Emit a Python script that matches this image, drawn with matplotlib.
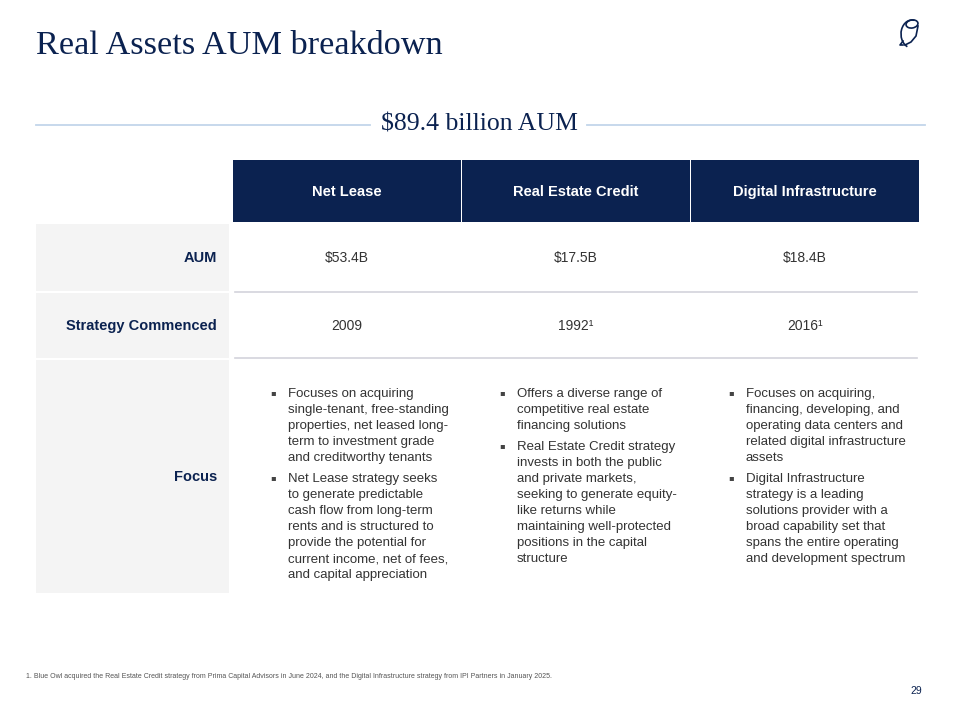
import matplotlib
matplotlib.use("Agg")
import matplotlib.pyplot as plt
from matplotlib.patches import Rectangle, Ellipse, Arc

NAVY = "#0b2250"
GREY_BG = "#f4f4f4"
TEXT = "#333333"
SANS = "Liberation Sans"
SERIF = "Liberation Serif"

title = "Real Assets AUM breakdown"
subtitle = "$89.4 billion AUM"
strategies = ["Net Lease", "Real Estate Credit", "Digital Infrastructure"]
row_labels = ["AUM", "Strategy Commenced", "Focus"]
aum = ["$53.4B", "$17.5B", "$18.4B"]
commenced = ["2009", "1992\u00b9", "2016\u00b9"]
focus = [
    [["Focuses on acquiring", "single-tenant, free-standing",
      "properties, net leased long-", "term to investment grade",
      "and creditworthy tenants"],
     ["Net Lease strategy seeks", "to generate predictable",
      "cash flow from long-term", "rents and is structured to",
      "provide the potential for", "current income, net of fees,",
      "and capital appreciation"]],
    [["Offers a diverse range of", "competitive real estate",
      "financing solutions"],
     ["Real Estate Credit strategy", "invests in both the public",
      "and private markets,", "seeking to generate equity-",
      "like returns while", "maintaining well-protected",
      "positions in the capital", "structure"]],
    [["Focuses on acquiring,", "financing, developing, and",
      "operating data centers and", "related digital infrastructure",
      "assets"],
     ["Digital Infrastructure", "strategy is a leading",
      "solutions provider with a", "broad capability set that",
      "spans the entire operating", "and development spectrum"]],
]
footnote = ("1. Blue Owl acquired the Real Estate Credit strategy from Prima Capital "
            "Advisors in June 2024, and the Digital Infrastructure strategy from "
            "IPI Partners in January 2025.")
page = "29"

fig = plt.figure(figsize=(9.56, 7.13), dpi=100)
ax = fig.add_axes([0, 0, 1, 1])
ax.set_xlim(0, 956)
ax.set_ylim(713, 0)
ax.axis("off")

# title + owl logo (rough outline)
ax.text(36, 46, title, fontsize=24.7, family=SERIF, color=NAVY, va="center")
ax.add_patch(Ellipse((912, 24), 12, 8, angle=-10, fill=False, ec=NAVY, lw=1.2))
ax.add_patch(Arc((912, 34), 22, 28, theta1=110, theta2=280, ec=NAVY, lw=1.2))
ax.plot([918, 916, 911, 905], [26, 36, 42, 45], color=NAVY, lw=1.2)
ax.plot([903, 900, 903], [45, 45, 41], color=NAVY, lw=1.2)

# subtitle with rule
ax.plot([36, 370], [125, 125], color="#c3d6ea", lw=1.3)
ax.plot([587, 925], [125, 125], color="#c3d6ea", lw=1.3)
ax.text(479, 124, subtitle, fontsize=18.5, family=SERIF, color=NAVY,
        ha="center", va="center")

# header cells
col_x = [233, 462, 691]
col_w = 228
for x, name in zip(col_x, strategies):
    ax.add_patch(Rectangle((x, 160), col_w, 62, color=NAVY, lw=0))
    ax.text(x + col_w / 2, 192, name, fontsize=10.5, family=SANS,
            weight="bold", color="white", ha="center", va="center")

# row label cells
row_y = [(224, 291), (293, 358), (360, 593)]
label_y = [258, 326, 477]
for (y0, y1), ly, lab in zip(row_y, label_y, row_labels):
    ax.add_patch(Rectangle((36, y0), 193, y1 - y0, color=GREY_BG, lw=0))
    ax.text(217, ly, lab, fontsize=10.5, family=SANS, weight="bold",
            color=NAVY, ha="right", va="center")

# separators
for y in [292, 358]:
    ax.plot([235, 917], [y, y], color="#d3d3db", lw=1.2)

# values
for x, a, c in zip(col_x, aum, commenced):
    ax.text(x + col_w / 2, 258, a, fontsize=10, family=SANS, color=TEXT,
            ha="center", va="center")
    ax.text(x + col_w / 2, 326, c, fontsize=10, family=SANS, color=TEXT,
            ha="center", va="center")

# focus bullets
line_h = 16
para_gap = 5
for x, bullets in zip(col_x, focus):
    y = 394
    for lines in bullets:
        ax.text(x + 40, y - 1, "\u25aa", fontsize=6, family="DejaVu Sans",
                color="#444444", ha="center", va="center")
        for ln in lines:
            ax.text(x + 55, y, ln, fontsize=9.5, family=SANS, color=TEXT,
                    va="center")
            y += line_h
        y += para_gap

ax.text(26, 677, footnote, fontsize=5, family=SANS, color="#555555",
        va="center")
ax.text(922, 691, page, fontsize=7.5, family=SANS, color=NAVY,
        ha="right", va="center")

fig.savefig("out.png", dpi=100)
